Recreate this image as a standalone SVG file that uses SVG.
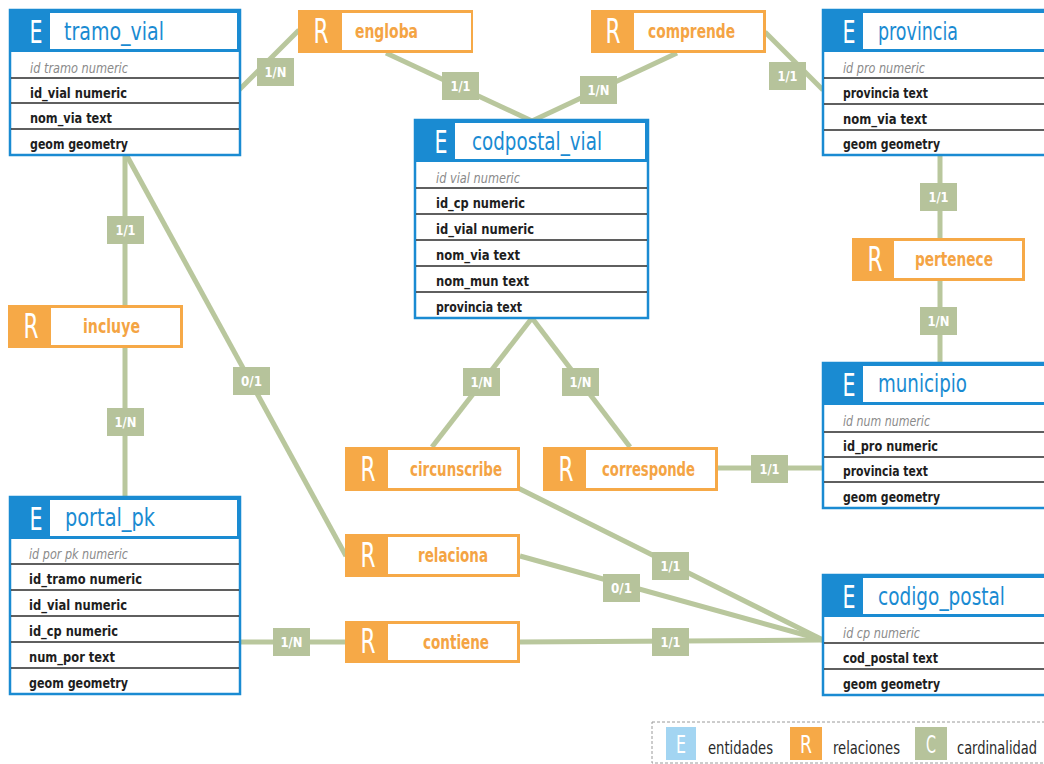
<svg xmlns="http://www.w3.org/2000/svg" width="1044" height="764" viewBox="0 0 1044 764">
<style>
text{font-family:"DejaVu Sans Condensed","Liberation Sans",sans-serif}
.bg{fill:#fff}
.frame{fill:#fff;stroke:#1a8bd2;stroke-width:2.5}
.head{fill:#1a8bd2}
.headin{fill:#fff}
.E{font-size:32px;fill:#fff}
.title{font-size:24px;fill:#1a8bd2}
.attr{font-size:14px;font-weight:bold;fill:#1e1e1e}
.pk{font-size:14px;font-style:italic;fill:#8a8a8a}
.sep{stroke:#2a2a2a;stroke-width:1.3}
.rel{fill:#f6a947}
.relin{fill:#fff}
.R{font-size:34px;fill:#fff}
.rlabel{font-size:20px;font-weight:bold;fill:#f4a444}
.conn{stroke:#b9c79d;stroke-width:5;fill:none}
.card{fill:#b6c39b}
.ctext{font-size:14px;font-weight:bold;fill:#fff}
.leg{font-size:17px;fill:#2a2a2a}
.legl{font-size:24px;fill:#fff}
</style>
<rect class="bg" x="0" y="0" width="1044" height="764"/>

<g id="connectors">
<path class="conn" d="M239 90 L299 30"/>
<path class="conn" d="M386 53 L532 121"/>
<path class="conn" d="M677 53 L532 121"/>
<path class="conn" d="M765 32 L823 90"/>
<path class="conn" d="M940 155 L940 238"/>
<path class="conn" d="M940 281 L940 363"/>
<path class="conn" d="M125 155 L125 305"/>
<path class="conn" d="M125 348 L125 497"/>
<path class="conn" d="M127 156 L346 556"/>
<path class="conn" d="M532 318 L432 447"/>
<path class="conn" d="M532 318 L630 447"/>
<path class="conn" d="M718 468 L823 468"/>
<path class="conn" d="M518 488 L823 640"/>
<path class="conn" d="M520 556 L823 640"/>
<path class="conn" d="M520 642 L823 640"/>
<path class="conn" d="M240 642 L345 642"/>
<g id="cardinalities">
<rect class="card" x="257" y="58" width="37" height="28"/><text class="ctext" x="275.5" y="77" text-anchor="middle" textLength="22" lengthAdjust="spacingAndGlyphs">1/N</text>
<rect class="card" x="442" y="72" width="37" height="28"/><text class="ctext" x="460.5" y="91" text-anchor="middle" textLength="20" lengthAdjust="spacingAndGlyphs">1/1</text>
<rect class="card" x="580" y="76" width="37" height="28"/><text class="ctext" x="598.5" y="95" text-anchor="middle" textLength="22" lengthAdjust="spacingAndGlyphs">1/N</text>
<rect class="card" x="769" y="62" width="37" height="28"/><text class="ctext" x="787.5" y="81" text-anchor="middle" textLength="20" lengthAdjust="spacingAndGlyphs">1/1</text>
<rect class="card" x="920" y="183" width="37" height="28"/><text class="ctext" x="938.5" y="202" text-anchor="middle" textLength="20" lengthAdjust="spacingAndGlyphs">1/1</text>
<rect class="card" x="920" y="307" width="37" height="28"/><text class="ctext" x="938.5" y="326" text-anchor="middle" textLength="22" lengthAdjust="spacingAndGlyphs">1/N</text>
<rect class="card" x="107" y="216" width="37" height="28"/><text class="ctext" x="125.5" y="235" text-anchor="middle" textLength="20" lengthAdjust="spacingAndGlyphs">1/1</text>
<rect class="card" x="107" y="408" width="37" height="28"/><text class="ctext" x="125.5" y="427" text-anchor="middle" textLength="22" lengthAdjust="spacingAndGlyphs">1/N</text>
<rect class="card" x="233" y="367" width="37" height="28"/><text class="ctext" x="251.5" y="386" text-anchor="middle" textLength="21" lengthAdjust="spacingAndGlyphs">0/1</text>
<rect class="card" x="463" y="368" width="37" height="28"/><text class="ctext" x="481.5" y="387" text-anchor="middle" textLength="22" lengthAdjust="spacingAndGlyphs">1/N</text>
<rect class="card" x="562" y="368" width="37" height="28"/><text class="ctext" x="580.5" y="387" text-anchor="middle" textLength="22" lengthAdjust="spacingAndGlyphs">1/N</text>
<rect class="card" x="751" y="455" width="37" height="28"/><text class="ctext" x="769.5" y="474" text-anchor="middle" textLength="20" lengthAdjust="spacingAndGlyphs">1/1</text>
<rect class="card" x="652" y="552" width="37" height="28"/><text class="ctext" x="670.5" y="571" text-anchor="middle" textLength="20" lengthAdjust="spacingAndGlyphs">1/1</text>
<rect class="card" x="603" y="574" width="37" height="28"/><text class="ctext" x="621.5" y="593" text-anchor="middle" textLength="21" lengthAdjust="spacingAndGlyphs">0/1</text>
<rect class="card" x="652" y="628" width="37" height="28"/><text class="ctext" x="670.5" y="647" text-anchor="middle" textLength="20" lengthAdjust="spacingAndGlyphs">1/1</text>
<rect class="card" x="273" y="628" width="37" height="28"/><text class="ctext" x="291.5" y="647" text-anchor="middle" textLength="22" lengthAdjust="spacingAndGlyphs">1/N</text>
</g>
</g>

<g id="tramo_vial">
<rect class="frame" x="10" y="10" width="230" height="145"/>
<rect class="head" x="10" y="10" width="230" height="42"/>
<rect class="headin" x="50" y="13" width="187" height="36"/>
<text class="E" x="36" y="43" text-anchor="middle" textLength="13" lengthAdjust="spacingAndGlyphs">E</text>
<text class="title" x="64" y="40" textLength="100" lengthAdjust="spacingAndGlyphs">tramo_vial</text>
<line class="sep" x1="11" y1="78" x2="239" y2="78"/>
<line class="sep" x1="11" y1="103" x2="239" y2="103"/>
<line class="sep" x1="11" y1="129" x2="239" y2="129"/>
<text class="pk" x="30" y="73" textLength="98" lengthAdjust="spacingAndGlyphs">id tramo numeric</text>
<text class="attr" x="30" y="98" textLength="97" lengthAdjust="spacingAndGlyphs">id_vial numeric</text>
<text class="attr" x="30" y="123" textLength="82" lengthAdjust="spacingAndGlyphs">nom_via text</text>
<text class="attr" x="30" y="149" textLength="98" lengthAdjust="spacingAndGlyphs">geom geometry</text>
</g>

<g id="codpostal_vial">
<rect class="frame" x="415" y="120" width="233" height="198"/>
<rect class="head" x="415" y="120" width="233" height="42"/>
<rect class="headin" x="455" y="123" width="190" height="36"/>
<text class="E" x="441" y="153" text-anchor="middle" textLength="13" lengthAdjust="spacingAndGlyphs">E</text>
<text class="title" x="472" y="150" textLength="130" lengthAdjust="spacingAndGlyphs">codpostal_vial</text>
<line class="sep" x1="416" y1="188" x2="647" y2="188"/>
<line class="sep" x1="416" y1="214" x2="647" y2="214"/>
<line class="sep" x1="416" y1="240" x2="647" y2="240"/>
<line class="sep" x1="416" y1="266" x2="647" y2="266"/>
<line class="sep" x1="416" y1="292" x2="647" y2="292"/>
<text class="pk" x="436" y="183" textLength="84" lengthAdjust="spacingAndGlyphs">id vial numeric</text>
<text class="attr" x="436" y="208" textLength="89" lengthAdjust="spacingAndGlyphs">id_cp numeric</text>
<text class="attr" x="436" y="234" textLength="98" lengthAdjust="spacingAndGlyphs">id_vial numeric</text>
<text class="attr" x="436" y="260" textLength="84" lengthAdjust="spacingAndGlyphs">nom_via text</text>
<text class="attr" x="436" y="286" textLength="93" lengthAdjust="spacingAndGlyphs">nom_mun text</text>
<text class="attr" x="436" y="312" textLength="86" lengthAdjust="spacingAndGlyphs">provincia text</text>
</g>

<g id="provincia">
<rect class="frame" x="823" y="10" width="230" height="145"/>
<rect class="head" x="823" y="10" width="230" height="42"/>
<rect class="headin" x="863" y="13" width="190" height="36"/>
<text class="E" x="849" y="43" text-anchor="middle" textLength="13" lengthAdjust="spacingAndGlyphs">E</text>
<text class="title" x="878" y="40" textLength="80" lengthAdjust="spacingAndGlyphs">provincia</text>
<line class="sep" x1="824" y1="78" x2="1044" y2="78"/>
<line class="sep" x1="824" y1="104" x2="1044" y2="104"/>
<line class="sep" x1="824" y1="130" x2="1044" y2="130"/>
<text class="pk" x="843" y="73" textLength="82" lengthAdjust="spacingAndGlyphs">id pro numeric</text>
<text class="attr" x="843" y="98" textLength="85" lengthAdjust="spacingAndGlyphs">provincia text</text>
<text class="attr" x="843" y="124" textLength="84" lengthAdjust="spacingAndGlyphs">nom_via text</text>
<text class="attr" x="843" y="149" textLength="97" lengthAdjust="spacingAndGlyphs">geom geometry</text>
</g>

<g id="municipio">
<rect class="frame" x="823" y="363" width="230" height="145"/>
<rect class="head" x="823" y="363" width="230" height="42"/>
<rect class="headin" x="863" y="366" width="190" height="36"/>
<text class="E" x="849" y="396" text-anchor="middle" textLength="13" lengthAdjust="spacingAndGlyphs">E</text>
<text class="title" x="878" y="392" textLength="89" lengthAdjust="spacingAndGlyphs">municipio</text>
<line class="sep" x1="824" y1="432" x2="1044" y2="432"/>
<line class="sep" x1="824" y1="457" x2="1044" y2="457"/>
<line class="sep" x1="824" y1="482" x2="1044" y2="482"/>
<text class="pk" x="843" y="426" textLength="87" lengthAdjust="spacingAndGlyphs">id num numeric</text>
<text class="attr" x="843" y="451" textLength="95" lengthAdjust="spacingAndGlyphs">id_pro numeric</text>
<text class="attr" x="843" y="476" textLength="85" lengthAdjust="spacingAndGlyphs">provincia text</text>
<text class="attr" x="843" y="502" textLength="97" lengthAdjust="spacingAndGlyphs">geom geometry</text>
</g>

<g id="portal_pk">
<rect class="frame" x="10" y="497" width="230" height="197"/>
<rect class="head" x="10" y="497" width="230" height="42"/>
<rect class="headin" x="50" y="500" width="187" height="36"/>
<text class="E" x="36" y="530" text-anchor="middle" textLength="13" lengthAdjust="spacingAndGlyphs">E</text>
<text class="title" x="65" y="526" textLength="90" lengthAdjust="spacingAndGlyphs">portal_pk</text>
<line class="sep" x1="11" y1="564" x2="239" y2="564"/>
<line class="sep" x1="11" y1="590" x2="239" y2="590"/>
<line class="sep" x1="11" y1="616" x2="239" y2="616"/>
<line class="sep" x1="11" y1="642" x2="239" y2="642"/>
<line class="sep" x1="11" y1="668" x2="239" y2="668"/>
<text class="pk" x="29" y="559" textLength="99" lengthAdjust="spacingAndGlyphs">id por pk numeric</text>
<text class="attr" x="29" y="584" textLength="113" lengthAdjust="spacingAndGlyphs">id_tramo numeric</text>
<text class="attr" x="29" y="610" textLength="98" lengthAdjust="spacingAndGlyphs">id_vial numeric</text>
<text class="attr" x="29" y="636" textLength="89" lengthAdjust="spacingAndGlyphs">id_cp numeric</text>
<text class="attr" x="29" y="662" textLength="86" lengthAdjust="spacingAndGlyphs">num_por text</text>
<text class="attr" x="29" y="688" textLength="99" lengthAdjust="spacingAndGlyphs">geom geometry</text>
</g>

<g id="codigo_postal">
<rect class="frame" x="823" y="575" width="230" height="120"/>
<rect class="head" x="823" y="575" width="230" height="42"/>
<rect class="headin" x="863" y="578" width="190" height="36"/>
<text class="E" x="849" y="608" text-anchor="middle" textLength="13" lengthAdjust="spacingAndGlyphs">E</text>
<text class="title" x="878" y="605" textLength="127" lengthAdjust="spacingAndGlyphs">codigo_postal</text>
<line class="sep" x1="824" y1="643" x2="1044" y2="643"/>
<line class="sep" x1="824" y1="669" x2="1044" y2="669"/>
<text class="pk" x="843" y="638" textLength="77" lengthAdjust="spacingAndGlyphs">id cp numeric</text>
<text class="attr" x="843" y="663" textLength="95" lengthAdjust="spacingAndGlyphs">cod_postal text</text>
<text class="attr" x="843" y="689" textLength="97" lengthAdjust="spacingAndGlyphs">geom geometry</text>
</g>

<g id="engloba">
<rect class="rel" x="298" y="10" width="175" height="43"/>
<rect class="relin" x="342" y="13" width="129" height="37"/>
<text class="R" x="321" y="43" text-anchor="middle" textLength="15" lengthAdjust="spacingAndGlyphs">R</text>
<text class="rlabel" x="355" y="38" textLength="63" lengthAdjust="spacingAndGlyphs">engloba</text>
</g>
<g id="comprende">
<rect class="rel" x="591" y="10" width="175" height="43"/>
<rect class="relin" x="634" y="13" width="129" height="37"/>
<text class="R" x="613" y="43" text-anchor="middle" textLength="15" lengthAdjust="spacingAndGlyphs">R</text>
<text class="rlabel" x="648" y="38" textLength="87" lengthAdjust="spacingAndGlyphs">comprende</text>
</g>
<g id="pertenece">
<rect class="rel" x="852" y="238" width="173" height="43"/>
<rect class="relin" x="894" y="241" width="128" height="37"/>
<text class="R" x="875" y="271" text-anchor="middle" textLength="15" lengthAdjust="spacingAndGlyphs">R</text>
<text class="rlabel" x="915" y="266" textLength="78" lengthAdjust="spacingAndGlyphs">pertenece</text>
</g>
<g id="incluye">
<rect class="rel" x="8" y="305" width="175" height="43"/>
<rect class="relin" x="51" y="308" width="129" height="37"/>
<text class="R" x="31" y="338" text-anchor="middle" textLength="15" lengthAdjust="spacingAndGlyphs">R</text>
<text class="rlabel" x="83" y="333" textLength="57" lengthAdjust="spacingAndGlyphs">incluye</text>
</g>
<g id="circunscribe">
<rect class="rel" x="345" y="447" width="175" height="44"/>
<rect class="relin" x="388" y="450" width="129" height="38"/>
<text class="R" x="368" y="481" text-anchor="middle" textLength="15" lengthAdjust="spacingAndGlyphs">R</text>
<text class="rlabel" x="410" y="476" textLength="92" lengthAdjust="spacingAndGlyphs">circunscribe</text>
</g>
<g id="corresponde">
<rect class="rel" x="543" y="447" width="175" height="44"/>
<rect class="relin" x="586" y="450" width="129" height="38"/>
<text class="R" x="566" y="481" text-anchor="middle" textLength="15" lengthAdjust="spacingAndGlyphs">R</text>
<text class="rlabel" x="602" y="476" textLength="93" lengthAdjust="spacingAndGlyphs">corresponde</text>
</g>
<g id="relaciona">
<rect class="rel" x="345" y="534" width="175" height="43"/>
<rect class="relin" x="388" y="537" width="129" height="37"/>
<text class="R" x="368" y="567" text-anchor="middle" textLength="15" lengthAdjust="spacingAndGlyphs">R</text>
<text class="rlabel" x="418" y="562" textLength="70" lengthAdjust="spacingAndGlyphs">relaciona</text>
</g>
<g id="contiene">
<rect class="rel" x="345" y="621" width="175" height="42"/>
<rect class="relin" x="388" y="624" width="129" height="36"/>
<text class="R" x="368" y="653" text-anchor="middle" textLength="15" lengthAdjust="spacingAndGlyphs">R</text>
<text class="rlabel" x="423" y="649" textLength="66" lengthAdjust="spacingAndGlyphs">contiene</text>
</g>

<g id="legend">
<rect x="652" y="722" width="400" height="41" fill="none" stroke="#9a9a9a" stroke-width="1" stroke-dasharray="3 2"/>
<rect x="666" y="727" width="30" height="33" fill="#a3d5f2"/>
<text class="legl" x="681" y="753" text-anchor="middle" textLength="10" lengthAdjust="spacingAndGlyphs">E</text>
<text class="leg" x="708" y="754" textLength="65" lengthAdjust="spacingAndGlyphs">entidades</text>
<rect x="790" y="727" width="32" height="33" fill="#f6a947"/>
<text class="legl" x="806" y="753" text-anchor="middle" textLength="12" lengthAdjust="spacingAndGlyphs">R</text>
<text class="leg" x="833" y="754" textLength="67" lengthAdjust="spacingAndGlyphs">relaciones</text>
<rect x="915" y="727" width="32" height="33" fill="#b6c39b"/>
<text class="legl" x="931" y="753" text-anchor="middle" textLength="10" lengthAdjust="spacingAndGlyphs">C</text>
<text class="leg" x="957" y="754" textLength="80" lengthAdjust="spacingAndGlyphs">cardinalidad</text>
</g>
</svg>
